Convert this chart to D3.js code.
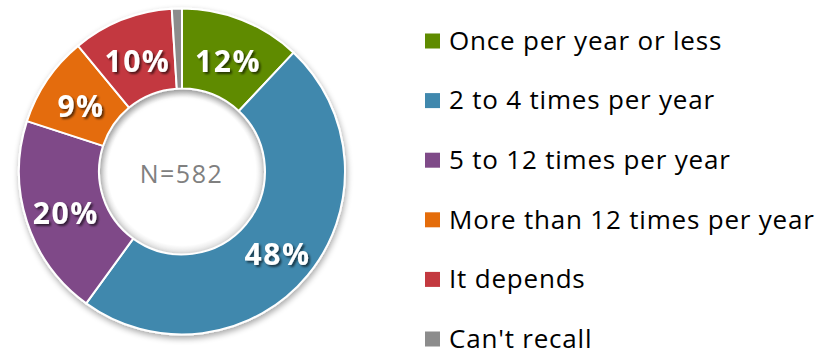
<!DOCTYPE html>
<html><head><meta charset="utf-8">
<script src="https://cdn.jsdelivr.net/npm/d3@7/dist/d3.min.js"></script>
<style>body{margin:0;background:#fff;} svg{display:block;}</style>
</head><body>
<svg id="chart" width="816" height="353"></svg>
<script>
const categories = ["Once per year or less","2 to 4 times per year","5 to 12 times per year","More than 12 times per year","It depends","Can't recall"];
const values = [12, 48, 20, 9, 10, 1];
const labels = ["12%","48%","20%","9%","10%",""];
const colors = ["#5f8b00","#4088ad","#7f4a88","#e46c0a","#c3393f","#8c8c8c"];
const centerText = "N=582";

const svg = d3.select("#chart");
const defs = svg.append("defs");
const f = defs.append("filter").attr("id","ds").attr("x","-20%").attr("y","-20%").attr("width","140%").attr("height","140%");
f.append("feGaussianBlur").attr("in","SourceAlpha").attr("stdDeviation",3);
f.append("feOffset").attr("dx",1).attr("dy",3).attr("result","b");
f.append("feComponentTransfer").append("feFuncA").attr("type","linear").attr("slope",0.35);
const fm = f.append("feMerge"); fm.append("feMergeNode"); fm.append("feMergeNode").attr("in","SourceGraphic");

const tf = defs.append("filter").attr("id","ts").attr("x","-20%").attr("y","-20%").attr("width","140%").attr("height","140%");
tf.append("feGaussianBlur").attr("in","SourceAlpha").attr("stdDeviation",1.2);
tf.append("feOffset").attr("dx",1.5).attr("dy",1.5).attr("result","b");
tf.append("feComponentTransfer").append("feFuncA").attr("type","linear").attr("slope",0.6);
const tm = tf.append("feMerge"); tm.append("feMergeNode"); tm.append("feMergeNode").attr("in","SourceGraphic");

const cx = 182, cy = 171.5, R = 163, r = 83;
const pie = d3.pie().sort(null).value(d => d);
const arcs = pie(values);
const arc = d3.arc().innerRadius(r).outerRadius(R);
const g = svg.append("g").attr("transform", `translate(${cx},${cy})`);
g.append("g").attr("filter","url(#ds)")
 .selectAll("path").data(arcs).join("path")
 .attr("d", arc).attr("fill", (d,i) => colors[i])
 .attr("stroke","#fff").attr("stroke-width",2).attr("stroke-linejoin","round");

const ig = defs.append("radialGradient").attr("id","hole");
ig.append("stop").attr("offset","0.9").attr("stop-color","#000").attr("stop-opacity",0);
ig.append("stop").attr("offset","1").attr("stop-color","#000").attr("stop-opacity",0.12);
g.append("circle").attr("r", r-1).attr("fill","url(#hole)");

const larc = d3.arc().innerRadius((r+R)/2).outerRadius((r+R)/2);
g.selectAll("text.lbl").data(arcs).join("text").attr("class","lbl")
 .attr("transform", d => { const c = larc.centroid(d); return `translate(${c[0]+0.75},${c[1]+4})`; })
 .attr("text-anchor","middle").attr("dy","0.36em")
 .attr("font-family","'Open Sans', sans-serif").attr("font-weight","bold")
 .attr("font-size",30).attr("letter-spacing",1.5).attr("fill","#fff").attr("filter","url(#ts)")
 .text((d,i) => labels[i]);

g.append("text").attr("text-anchor","middle").attr("dy","0.36em").attr("x",-0.5).attr("y",2)
 .attr("font-family","'Open Sans', sans-serif").attr("font-size",25).attr("letter-spacing",1.5).attr("fill","#808080")
 .text(centerText);

const y = d3.scalePoint().domain(categories).range([41, 339]);
const lg = svg.append("g");
const items = lg.selectAll("g").data(categories).join("g").attr("transform", d => `translate(425,${y(d)})`);
items.append("rect").attr("x",0).attr("y",-7.5).attr("width",15).attr("height",15).attr("fill",(d,i)=>colors[i]);
items.append("text").attr("x",24).attr("dy","0.34em")
 .attr("font-family","'Open Sans', sans-serif").attr("font-size",26).attr("letter-spacing",0.8).attr("fill","#000")
 .text(d => d);
</script>
</body></html>
